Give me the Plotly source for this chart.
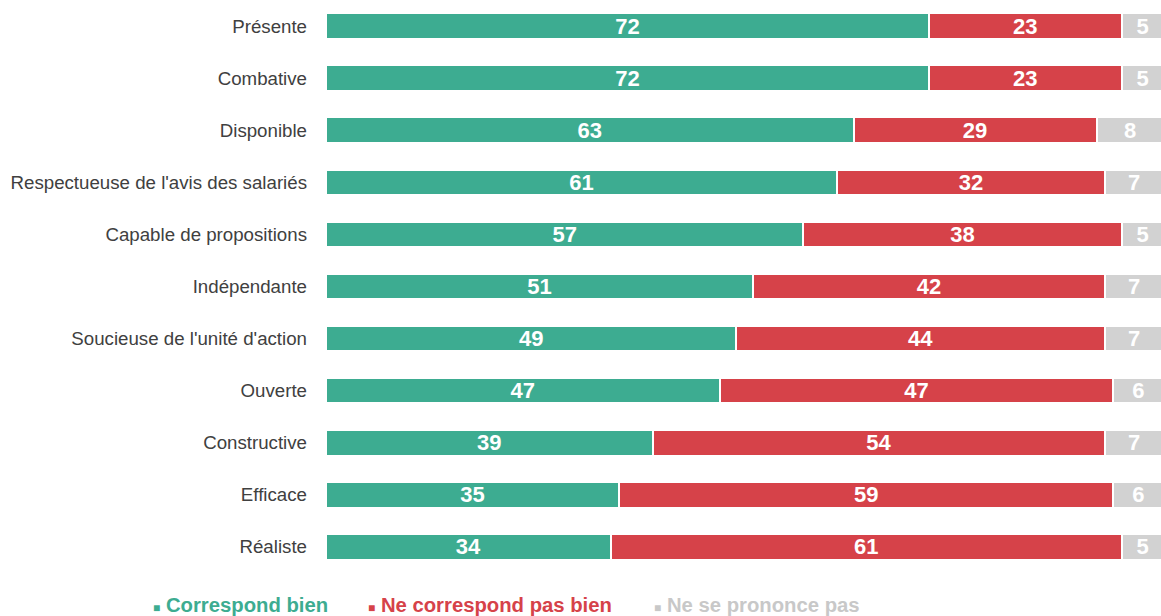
import plotly.graph_objects as go

categories = ["Présente", "Combative", "Disponible", "Respectueuse de l'avis des salariés",
              "Capable de propositions", "Indépendante", "Soucieuse de l'unité d'action",
              "Ouverte", "Constructive", "Efficace", "Réaliste"]
correspond = [72, 72, 63, 61, 57, 51, 49, 47, 39, 35, 34]
ne_correspond_pas = [23, 23, 29, 32, 38, 42, 44, 47, 54, 59, 61]
nsp = [5, 5, 8, 7, 5, 7, 7, 6, 7, 6, 5]

series = [
    ("Correspond bien", correspond, "#3dac91"),
    ("Ne correspond pas bien", ne_correspond_pas, "#d64249"),
    ("Ne se prononce pas", nsp, "#d2d2d2"),
]

fig = go.Figure()
for name, vals, color in series:
    fig.add_trace(go.Bar(
        y=categories, x=vals, name=name, orientation="h",
        marker=dict(color=color, line=dict(color="white", width=2)),
        text=vals, texttemplate="%{text}", textposition="inside",
        insidetextanchor="middle", constraintext="none", textangle=0,
        textfont=dict(family="Liberation Sans, Arial, sans-serif", size=22,
                      color="white", weight="bold"),
        width=0.49, showlegend=False,
    ))

# legend as coloured annotations
legend_items = [("Correspond bien", "#3dac91"),
                ("Ne correspond pas bien", "#d64249"),
                ("Ne se prononce pas", "#c8c8c8")]
legend_x_px = [151, 366, 652]
plot_left, plot_w = 326, 1161 - 326
for (label, color), px in zip(legend_items, legend_x_px):
    fig.add_annotation(
        x=(px - plot_left) / plot_w, y=-0.055, xref="paper", yref="paper",
        xanchor="left", yanchor="middle", showarrow=False,
        text=f"<span style='font-size:12px'>■</span> {label}",
        font=dict(family="Liberation Sans, Arial, sans-serif", size=20.3,
                  color=color, weight="bold"),
    )

fig.update_layout(
    barmode="stack", width=1161, height=616,
    margin=dict(l=326, r=0, t=0, b=43),
    plot_bgcolor="white", paper_bgcolor="white",
    xaxis=dict(range=[0, 99.7], visible=False, fixedrange=True),
    yaxis=dict(autorange="reversed", showgrid=False, zeroline=False, showline=False,
               ticks="", ticklabelstandoff=18,
               tickfont=dict(family="Liberation Sans, Arial, sans-serif", size=18.7,
                             color="#404040")),
)

fig.write_html("out.html")
